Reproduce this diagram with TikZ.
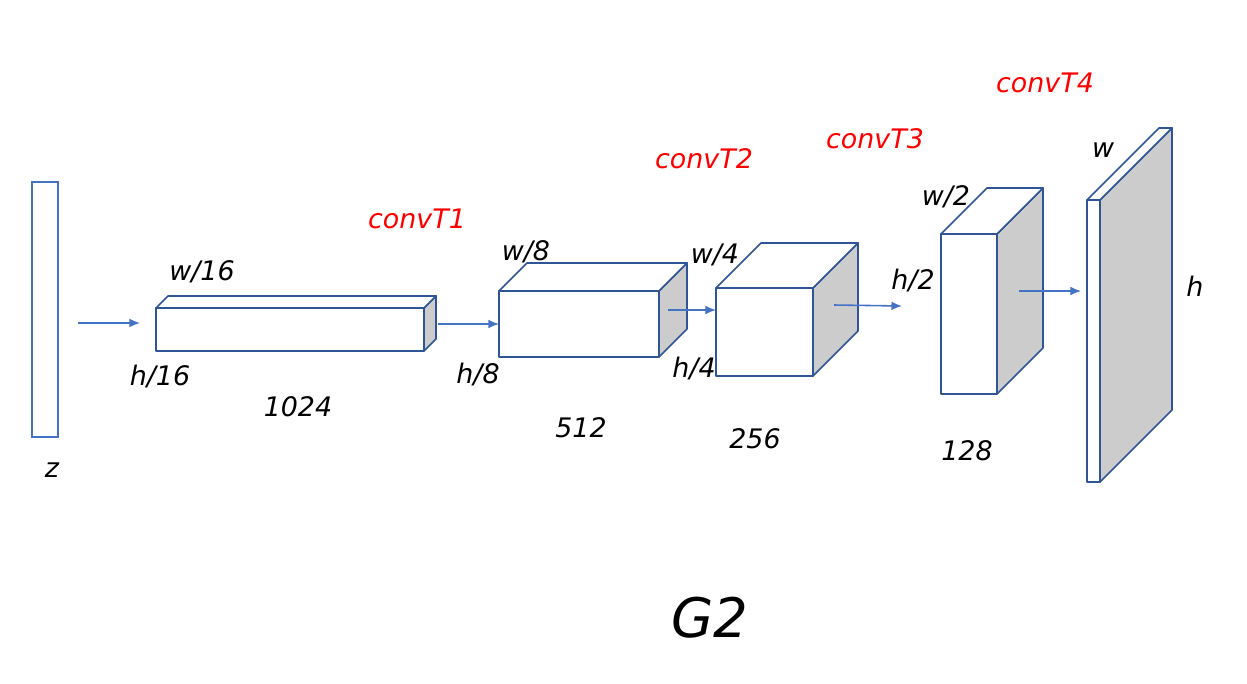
\documentclass[tikz,border=0pt]{standalone}
\usepackage{fontspec}
\setmainfont{DejaVu Sans}
\usetikzlibrary{arrows.meta}

\definecolor{boxblue}{HTML}{2F5597}
\definecolor{arrowblue}{HTML}{4472C4}
\definecolor{sidegray}{HTML}{CCCCCC}

% cuboid: front face corners (x1,y1) (x2,y2), depth d
\newcommand{\cuboid}[5]{%
  \filldraw[fill=sidegray] (#3,#2) -- ++(#5,-#5) -- ($(#3,#4)+(#5,-#5)$) -- (#3,#4) -- cycle;
  \filldraw[fill=white] (#1,#2) -- ++(#5,-#5) -- ($(#3,#2)+(#5,-#5)$) -- (#3,#2) -- cycle;
  \filldraw[fill=white] (#1,#2) rectangle (#3,#4);}
\usetikzlibrary{calc}

\begin{document}
\begin{tikzpicture}[x=0.02cm,y=-0.02cm]
\tikzstyle{every node}=[font=\fontsize{15.3pt}{18pt}\selectfont\itshape]
\tikzstyle{layer}=[draw=boxblue, line width=0.95pt, line join=round]
\tikzstyle{flow}=[draw=arrowblue, line width=0.9pt, -{Latex[length=6pt,width=5pt]}]
\tikzstyle{op}=[text=red]
\useasboundingbox (0,0) rectangle (1247,683);

% latent vector
\draw[draw=arrowblue, line width=0.95pt] (32,182) rectangle (58,437);
\node (z) at (52,470) {z};

% layers
\begin{scope}[layer]
\cuboid{156}{308}{424}{351}{12}
\cuboid{499}{291}{659}{357}{28}
\cuboid{716}{288}{813}{376}{45}
\cuboid{941}{234}{997}{394}{46}
\cuboid{1087}{200}{1100}{482}{72}
\end{scope}

% connectors
\coordinate (z out) at (78,323);   \coordinate (l1 in) at (140,323);
\coordinate (l1 out) at (438,324); \coordinate (l2 in) at (499,324);
\coordinate (l2 out) at (668,310); \coordinate (l3 in) at (716,310);
\coordinate (l3 out) at (834,305); \coordinate (l4 in) at (902,306);
\coordinate (l4 out) at (1019,291); \coordinate (l5 in) at (1081,291);
\draw[flow] (z out) -- (l1 in);
\draw[flow] (l1 out) -- (l2 in);
\draw[flow] (l2 out) -- (l3 in);
\draw[flow] (l3 out) -- (l4 in);
\draw[flow] (l4 out) -- (l5 in);

% labels
\node (w16) at (202,272) {w/16};
\node (h16) at (160,377) {h/16};
\node (c1024) at (298,407) {1024};
\node[op] (t1) at (417,219) {convT1};
\node (w8) at (526,252) {w/8};
\node (h8) at (478,375) {h/8};
\node (c512) at (581,428) {512};
\node[op] (t2) at (704,159) {convT2};
\node (w4) at (715,255) {w/4};
\node (h4) at (694,369) {h/4};
\node (c256) at (755,439) {256};
\node[op] (t3) at (875,139) {convT3};
\node (w2) at (946,197) {w/2};
\node (h2) at (913,281) {h/2};
\node (c128) at (967,451) {128};
\node[op] (t4) at (1045,83) {convT4};
\node (w) at (1103,150) {w};
\node (h) at (1195,286) {h};
\node[font=\fontsize{31pt}{36pt}\selectfont\itshape] (g2) at (710,618) {G2};
\end{tikzpicture}
\end{document}
